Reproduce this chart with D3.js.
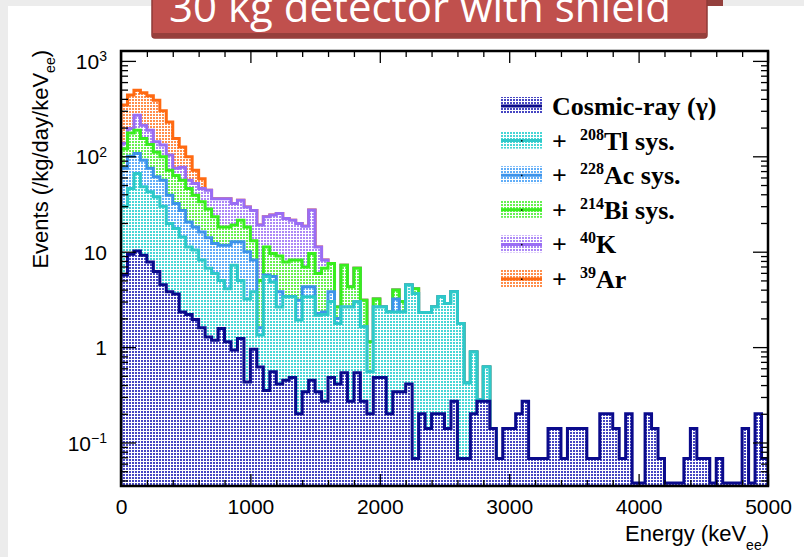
<!DOCTYPE html>
<html>
<head>
<meta charset="utf-8">
<script src="https://cdn.jsdelivr.net/npm/d3@7"></script>
<style>
body{margin:0;background:#ececec;}
svg{display:block;}
</style>
</head>
<body>
<div id="chart"></div>
<script>
// 50 keV bins, every histogram is cumulative (each one adds a source to the previous)
const binWidth = 50;

const cosmic = [5.7, 9.4, 10.2, 9.2, 7.8, 6.2, 4.5, 3.8, 3.6, 2.34,
  2.2, 1.95, 1.6, 1.28, 1.18, 1.57, 1.14, 0.93, 1.23, 0.43,
  0.95, 0.62, 0.35, 0.55, 0.41, 0.45, 0.48, 0.2, 0.34, 0.45,
  0.34, 0.27, 0.48, 0.41, 0.54, 0.27, 0.54, 0.27, 0.2, 0.48,
  0.48, 0.2, 0.34, 0.34, 0.41, 0.068, 0.2, 0.14, 0.2, 0.2,
  0.14, 0.27, 0.068, 0.068, 0.2, 0.27, 0.27, 0.14, 0.068, 0.14,
  0.14, 0.2, 0.27, 0.068, 0.068, 0.068, 0.14, 0.14, 0.068, 0.14,
  0.14, 0.14, 0.068, 0.068, 0.2, 0.2, 0.14, 0.068, 0.2, 0,
  0, 0.2, 0.14, 0.068, 0, 0, 0, 0.068, 0.14, 0.068,
  0.068, 0, 0.068, 0, 0, 0, 0.14, 0, 0.2, 0.068];

const plusTl = [30, 46, 66, 48, 42.4, 37.6, 30, 19.8, 17.5, 14.3,
  11.2, 10.4, 8.2, 6.7, 5.9, 5.0, 4.1, 7.2, 5.0, 3.2,
  3.8, 1.34, 5.5, 4.8, 2.64, 3.37, 3.37, 1.92, 3.37, 3.37,
  2.16, 2.2, 3.0, 1.77, 2.64, 2.64, 2.98, 1.63, 0.55, 2.64,
  2.64, 2.34, 2.34, 2.34, 4.47, 3.65, 2.3, 2.3, 2.64, 3.37,
  2.87, 3.8, 1.77, 0.42, 0.89, 0.28, 0.62, 0.14];

const plusAc = [75, 100, 107, 91, 75, 61, 56, 39, 32, 27,
  20.5, 18.2, 16.1, 14, 12.2, 11.7, 11.7, 12.7, 12.7, 10,
  8.2, 1.6, 5.7, 5.5, 3.8, 3.4, 3.4, 3.1, 4.3, 4.3,
  2.25, 2.34, 3.8, 2.0, 2.64, 2.64, 2.98, 1.63, 0.55, 2.64,
  2.64, 2.34, 3.2, 2.34, 4.47, 3.65, 2.3, 2.3, 2.64, 3.37,
  2.87, 3.8, 1.77, 0.42, 0.89, 0.28, 0.62, 0.14];

const plusBi = [120, 175, 188, 154, 133, 111, 99, 71.6, 63, 56,
  46, 39, 33.4, 28, 23.2, 18.2, 18.2, 19, 21.4, 18.2,
  13, 5.0, 11.2, 9.6, 9.0, 7.8, 8.2, 8.2, 6.9, 9.6,
  5.9, 6.7, 7.5, 2.64, 7.2, 4.3, 6.7, 3.1, 1.14, 3.2,
  2.64, 2.34, 3.96, 3.0, 4.47, 4.1, 2.3, 2.3, 2.64, 3.37,
  2.87, 3.8, 1.77, 0.42, 0.89, 0.28, 0.62, 0.14];

const plusK = [137, 196, 270, 211, 188, 142, 131, 103, 75, 77,
  56, 52, 46, 44, 36, 36, 36, 32, 34.7, 29.5,
  27, 19, 23.2, 24.2, 25.2, 22.3, 21.4, 19.8, 18.5, 27.3,
  11.2, 8.2, 7.5, 2.64, 7.2, 4.3, 6.7, 3.1, 1.14, 3.2,
  2.64, 2.34, 3.96, 3.0, 4.47, 4.1, 2.3, 2.3, 2.64, 3.37,
  2.87, 3.8, 1.77, 0.42, 0.89, 0.28, 0.62, 0.14];

const plusAr = [345, 440, 493, 465, 430, 387, 300, 229, 154, 125,
  99, 71.6, 58, 44, 36, 36, 36, 32, 34.7, 29.5,
  27, 19, 23.2, 24.2, 25.2, 22.3, 21.4, 19.8, 18.5, 27.3,
  11.2, 8.2, 7.5, 2.64, 7.2, 4.3, 6.7, 3.1, 1.14, 3.2,
  2.64, 2.34, 3.96, 3.0, 4.47, 4.1, 2.3, 2.3, 2.64, 3.37,
  2.87, 3.8, 1.77, 0.42, 0.89, 0.28, 0.62, 0.14];

const legendPrefix = ["", "+", "+", "+", "+", "+"];
const legendIsotope = ["", "208", "228", "214", "40", "39"];
const legendName = ["Cosmic-ray (\u03b3)", "Tl sys.", "Ac sys.", "Bi sys.", "K", "Ar"];

const xMajor = [0, 1000, 2000, 3000, 4000, 5000];
const yMajor = [0.1, 1, 10, 100, 1000];
const yLabelBase = ["10", "1", "10", "10", "10"];
const yLabelExp = ["\u22121", "", "", "2", "3"];

const title = "30 kg detector with shield";

// styles
const lineColors = ["#0b0b8c", "#2ec9c9", "#3d93ea", "#38ee1e", "#9a6df4", "#ff6a12"];
const dotColors = ["#4646c2", "#48d6d6", "#62aef8", "#66f052", "#ac88f6", "#ff8e4c"];

const W = 804, H = 557;
const pLeft = 121, pRight = 768, pTop = 51, pBottom = 486;

const svg = d3.select("#chart").append("svg")
  .attr("width", W).attr("height", H);

svg.append("rect").attr("width", W).attr("height", H).attr("fill", "#ececec");
svg.append("rect").attr("x", 8).attr("y", 6).attr("width", W - 8).attr("height", H - 6).attr("fill", "#ffffff");

// title banner (its text is cut by the top edge, as in the slide)
svg.append("rect").attr("x", 160).attr("y", -5).attr("width", 563).attr("height", 11).attr("fill", "#94403d");
svg.append("rect").attr("x", 152).attr("y", -6).attr("width", 555).attr("height", 44).attr("rx", 3)
  .attr("fill", "#c0504d").attr("stroke", "#8e3a37").attr("stroke-width", 1.5);
svg.append("rect").attr("x", 153).attr("y", 33).attr("width", 553).attr("height", 4).attr("fill", "#963f3c");
svg.append("text").attr("x", 420).attr("y", 22)
  .attr("text-anchor", "middle").attr("fill", "#ffffff")
  .style("font-family", "'Open Sans', sans-serif").style("font-size", "42px")
  .text(title);

const x = d3.scaleLinear().domain([0, 5000]).range([pLeft, pRight]);
const y = d3.scaleLog().domain([0.035, 1270]).range([pBottom, pTop]);

const defs = svg.append("defs");
dotColors.forEach((c, k) => {
  const p = defs.append("pattern").attr("id", "dots" + k)
    .attr("patternUnits", "userSpaceOnUse").attr("width", 3).attr("height", 3);
  p.append("rect").attr("width", 3).attr("height", 3).attr("fill", "#ffffff");
  p.append("rect").attr("width", 2).attr("height", 2).attr("fill", c);
});
defs.append("clipPath").attr("id", "frameClip")
  .append("rect").attr("x", pLeft).attr("y", pTop).attr("width", pRight - pLeft).attr("height", pBottom - pTop);

function yOf(v) {
  return v > 0 ? y(Math.max(v, 0.035)) : pBottom - 3;
}

function outline(vals) {
  let s = "M" + x(0) + "," + pBottom;
  vals.forEach((v, i) => {
    s += "L" + x(i * binWidth) + "," + yOf(v) + "L" + x((i + 1) * binWidth) + "," + yOf(v);
  });
  s += "L" + x(vals.length * binWidth) + "," + pBottom;
  return s;
}

const hists = [cosmic, plusTl, plusAc, plusBi, plusK, plusAr];
const g = svg.append("g").attr("clip-path", "url(#frameClip)");
for (let k = hists.length - 1; k >= 0; k--) {
  const d = outline(hists[k]);
  g.append("path").attr("d", d + "Z").attr("fill", "url(#dots" + k + ")").attr("stroke", "none");
  g.append("path").attr("d", d).attr("fill", "none")
    .attr("stroke", lineColors[k]).attr("stroke-width", 3).attr("stroke-linejoin", "miter");
}

// axes
const fontAxis = "'Liberation Sans', Arial, sans-serif";
const xMinor = d3.range(0, 5001, 200).filter(v => v % 1000 != 0);
const yMinor = [];
[0.01, 0.1, 1, 10, 100].forEach(dec => {
  for (let m = 2; m <= 9; m++) {
    const v = m * dec;
    if (v > 0.035 && v < 1270) yMinor.push(v);
  }
});

function styleAxis(sel) {
  sel.select(".domain").remove();
  sel.selectAll("line").attr("stroke", "#000").attr("stroke-width", 1.3);
}

svg.append("g").attr("transform", `translate(0,${pBottom})`)
  .call(d3.axisBottom(x).tickValues(xMajor).tickSizeInner(-12).tickSizeOuter(0).tickPadding(13).tickFormat(d3.format("d")))
  .call(styleAxis)
  .selectAll("text").style("font-family", fontAxis).style("font-size", "21px").attr("fill", "#000");
svg.append("g").attr("transform", `translate(0,${pBottom})`)
  .call(d3.axisBottom(x).tickValues(xMinor).tickSizeInner(-6).tickSizeOuter(0).tickFormat(""))
  .call(styleAxis);
svg.append("g").attr("transform", `translate(0,${pTop})`)
  .call(d3.axisTop(x).tickValues(xMajor).tickSizeInner(-12).tickSizeOuter(0).tickFormat(""))
  .call(styleAxis);
svg.append("g").attr("transform", `translate(0,${pTop})`)
  .call(d3.axisTop(x).tickValues(xMinor).tickSizeInner(-6).tickSizeOuter(0).tickFormat(""))
  .call(styleAxis);

const yAxisG = svg.append("g").attr("transform", `translate(${pLeft},0)`)
  .call(d3.axisLeft(y).tickValues(yMajor).tickSizeInner(-15).tickSizeOuter(0).tickPadding(14).tickFormat(""))
  .call(styleAxis);
yAxisG.selectAll(".tick text").each(function (d, i) {
  const t = d3.select(this).style("font-family", fontAxis).style("font-size", "21px")
    .attr("fill", "#000").attr("dy", "0.36em");
  t.append("tspan").text(yLabelBase[i]);
  if (yLabelExp[i]) {
    t.append("tspan").attr("dy", "-0.55em").style("font-size", "14px").text(yLabelExp[i]);
  }
});
svg.append("g").attr("transform", `translate(${pLeft},0)`)
  .call(d3.axisLeft(y).tickValues(yMinor).tickSizeInner(-7).tickSizeOuter(0).tickFormat(""))
  .call(styleAxis);
svg.append("g").attr("transform", `translate(${pRight},0)`)
  .call(d3.axisRight(y).tickValues(yMajor).tickSizeInner(-15).tickSizeOuter(0).tickFormat(""))
  .call(styleAxis);
svg.append("g").attr("transform", `translate(${pRight},0)`)
  .call(d3.axisRight(y).tickValues(yMinor).tickSizeInner(-7).tickSizeOuter(0).tickFormat(""))
  .call(styleAxis);

svg.append("rect").attr("x", pLeft).attr("y", pTop).attr("width", pRight - pLeft).attr("height", pBottom - pTop)
  .attr("fill", "none").attr("stroke", "#000").attr("stroke-width", 2.5);

// axis titles
const xt = svg.append("text").attr("x", 769).attr("y", 541).attr("text-anchor", "end")
  .style("font-family", fontAxis).style("font-size", "22px").attr("fill", "#000");
xt.append("tspan").text("Energy (keV");
xt.append("tspan").attr("dy", 9).style("font-size", "14px").text("ee");
xt.append("tspan").attr("dy", -9).text(")");

const yt = svg.append("text").attr("transform", "translate(48,50) rotate(-90)").attr("text-anchor", "end")
  .style("font-family", fontAxis).style("font-size", "22px").attr("fill", "#000");
yt.append("tspan").text("Events (/kg/day/keV");
yt.append("tspan").attr("dy", 7).style("font-size", "14px").text("ee");
yt.append("tspan").attr("dy", -7).text(")");

// legend
const legY = d3.range(6).map(i => 106 + i * 34.6);
const leg = svg.append("g");
legendName.forEach((name, k) => {
  const cy = legY[k];
  leg.append("rect").attr("x", 501).attr("y", cy - 9).attr("width", 41).attr("height", 17)
    .attr("fill", "url(#dots" + k + ")");
  leg.append("line").attr("x1", 501).attr("x2", 542).attr("y1", cy).attr("y2", cy)
    .attr("stroke", lineColors[k]).attr("stroke-width", 3);
  if (k > 0) leg.append("rect").attr("x", 521).attr("y", cy - 0.5).attr("width", 1.5).attr("height", 1.5).attr("fill", "#000");
  const t = leg.append("text").attr("x", 552).attr("y", cy + 9)
    .style("font-family", "'Liberation Serif', 'Times New Roman', serif").style("font-weight", "bold")
    .style("font-size", "26px").attr("fill", "#000");
  if (legendPrefix[k]) {
    t.append("tspan").text(legendPrefix[k]);
    t.append("tspan").attr("x", 580).attr("dy", -10).style("font-size", "16px").text(legendIsotope[k]);
    t.append("tspan").attr("dy", 10).text(name);
  } else {
    t.append("tspan").text(name);
  }
});
</script>
</body>
</html>
